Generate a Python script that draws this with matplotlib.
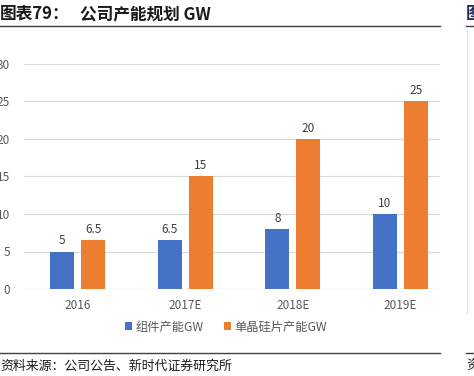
# %% pacotes
import numpy as np
import matplotlib.pyplot as plt
from matplotlib.lines import Line2D

plt.rcParams['font.family'] = ['Noto Sans CJK SC', 'DejaVu Sans']

# %% dados
anos = ['2016', '2017E', '2018E', '2019E']
modulo = [5, 6.5, 8, 10]
wafer = [6.5, 15, 20, 25]
nomes = ['组件产能GW', '单晶硅片产能GW']

# %% figura
W, H = 474, 376
fig = plt.figure(figsize=(W / 100, H / 100), dpi=100)
ax = fig.add_axes([24 / W, 1 - 289 / H, 416 / W, 225 / H])

x = np.arange(len(anos))
larg = 0.223
b1 = ax.bar(x - 0.144, modulo, larg, color='#4472C4', label=nomes[0], zorder=3)
b2 = ax.bar(x + 0.144, wafer, larg, color='#ED7D31', label=nomes[1], zorder=3)
for barras in (b1, b2):
    ax.bar_label(barras, labels=[f'{v:g}' for v in barras.datavalues],
                 padding=3, fontsize=8.5, color='#404040')

ax.set_xlim(-0.5, 3.37)
ax.set_ylim(0, 30)
ax.set_yticks(range(0, 31, 5))
ax.set_xticks(x, anos)
ax.grid(axis='y', color='#D9D9D9', lw=0.8, zorder=0)
for s in ax.spines.values():
    s.set_visible(False)
ax.axhline(0, color='#D9D9D9', lw=0.9, zorder=2)
ax.tick_params(length=0, labelsize=8.5, labelcolor='#595959')
ax.tick_params(axis='y', pad=10)
ax.tick_params(axis='x', pad=7)

fig.legend(handles=[b1, b2], labels=nomes, loc='center', bbox_to_anchor=(226 / W, 1 - 327 / H),
           ncol=2, frameon=False, fontsize=8.8, labelcolor='#595959',
           handlelength=0.6, handleheight=0.6, handletextpad=0.3, columnspacing=1.6)

# %% título e fonte
fig.text(0, 1 - 14 / H, '图表79：', fontsize=12, fontweight='bold',
         color='#1a1a1a', va='center', ha='left')
fig.text(80 / W, 1 - 14 / H, '公司产能规划 GW', fontsize=12, fontweight='bold',
         color='#1a1a1a', va='center', ha='left')
fig.add_artist(Line2D([0, 440 / W], [1 - 26 / H] * 2, color='#404040', lw=1))
fig.add_artist(Line2D([0, 440 / W], [1 - 353 / H] * 2, color='#404040', lw=1))
fig.text(0, 1 - 366 / H, '资料来源：公司公告、新时代证券研究所', fontsize=9.3,
         color='#1a1a1a', va='center', ha='left')

# painel vizinho cortado
fig.text(466 / W, 1 - 14 / H, '图', fontsize=12, fontweight='bold', color='#1f2d56',
         va='center', ha='left')
fig.add_artist(Line2D([466 / W, 1], [1 - 26 / H] * 2, color='#404040', lw=1))
fig.add_artist(Line2D([466 / W, 1], [1 - 353 / H] * 2, color='#404040', lw=1))
fig.add_artist(Line2D([467 / W] * 2, [1 - 30 / H, 1 - 313 / H], color='#E0E0E0', lw=0.8))
fig.text(466 / W, 1 - 366 / H, '资', fontsize=9.3, color='#1a1a1a', va='center', ha='left')

fig.savefig('out.png', dpi=100)
